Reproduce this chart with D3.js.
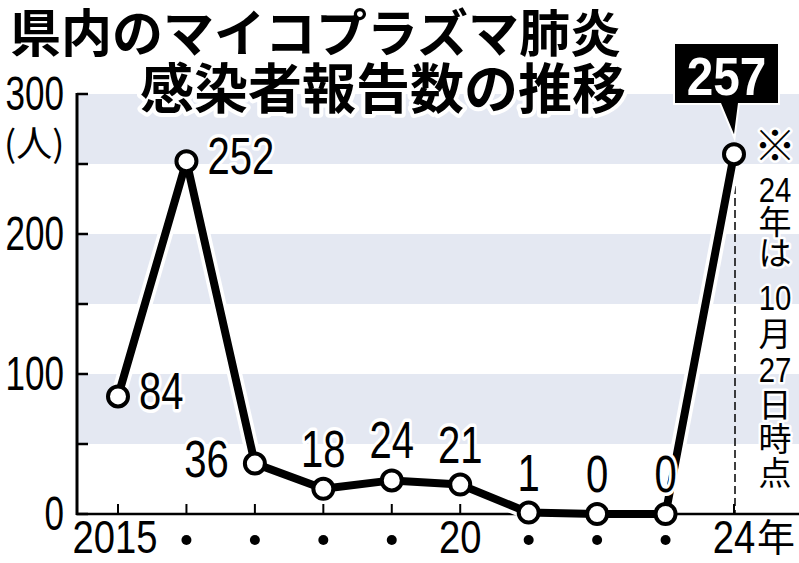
<!DOCTYPE html>
<html>
<head>
<meta charset="utf-8">
<script src="https://cdn.jsdelivr.net/npm/d3@7"></script>
<style>
  body { margin: 0; background: #fff; }
  svg { display: block; }
</style>
</head>
<body>
<svg id="chart"></svg>
<script>
// data
const years = [2015, 2016, 2017, 2018, 2019, 2020, 2021, 2022, 2023, 2024];
const cases = [84, 252, 36, 18, 24, 21, 1, 0, 0, 257];
const yTickLabels = [0, 100, 200, 300];
const xTickLabels = ['2015', '', '', '', '', '20', '', '', '', '24'];
const bands = [[50, 100], [150, 200], [250, 300]];
const titleLines = ['県内のマイコプラズマ肺炎', '感染者報告数の推移'];
const noteChars = ['※', '24', '年', 'は', '10', '月', '27', '日', '時', '点'];

// where each value label sits relative to its point
const labelSide = ['right', 'right', 'left', 'top', 'top', 'top', 'top', 'top', 'top', 'box'];

const width = 799, height = 563;
const numFont = '"Liberation Sans", sans-serif';
const jpFont = '"Noto Sans CJK JP", sans-serif';

const svg = d3.select('#chart')
    .attr('width', width)
    .attr('height', height);

const x = d3.scaleLinear().domain([2015, 2024]).range([118, 734]);
const y = d3.scaleLinear().domain([0, 300]).range([514, 94]);
const axisX = 77;

// condensed number text (scaled horizontally)
function numText(g, txt, px, py, size, sx, anchor) {
    return g.append('text')
        .attr('transform', `translate(${px},${py}) scale(${sx},1)`)
        .attr('text-anchor', anchor)
        .style('font-family', numFont)
        .style('font-size', size + 'px')
        .text(txt);
}

function halo(sel, w) {
    return sel.attr('stroke', '#fff')
        .attr('stroke-width', w)
        .attr('stroke-linejoin', 'round')
        .attr('paint-order', 'stroke');
}

// background bands
svg.append('g').selectAll('rect')
    .data(bands)
    .enter()
    .append('rect')
    .attr('x', axisX)
    .attr('width', width - axisX)
    .attr('y', d => y(d[1]))
    .attr('height', d => y(d[0]) - y(d[1]))
    .attr('fill', '#e4e8f2');

// y axis
const yAxis = svg.append('g');
yAxis.append('line')
    .attr('x1', axisX).attr('x2', axisX)
    .attr('y1', y(300) - 1).attr('y2', y(0) + 1)
    .attr('stroke', '#000').attr('stroke-width', 3);
yAxis.selectAll('.ytick')
    .data(d3.range(0, 301, 50))
    .enter()
    .append('line')
    .attr('x1', axisX).attr('x2', axisX + 11)
    .attr('y1', d => y(d)).attr('y2', d => y(d))
    .attr('stroke', '#000').attr('stroke-width', 2.5);
yTickLabels.forEach(v => {
    numText(yAxis, v, 64, y(v) + 16, 48, 0.73, 'end');
});
yAxis.append('text')
    .attr('x', 4).attr('y', 157)
    .style('font-family', jpFont)
    .style('font-size', '36px')
    .text('(人)');

// x axis
const xAxis = svg.append('g');
xAxis.append('line')
    .attr('x1', axisX - 1).attr('x2', width)
    .attr('y1', y(0)).attr('y2', y(0))
    .attr('stroke', '#000').attr('stroke-width', 2.5);
xAxis.selectAll('.xtick')
    .data(years)
    .enter()
    .append('line')
    .attr('x1', d => x(d)).attr('x2', d => x(d))
    .attr('y1', y(0)).attr('y2', y(0) - 10)
    .attr('stroke', '#000').attr('stroke-width', 2);
years.forEach((yr, i) => {
    const lab = xTickLabels[i];
    if (lab === '') {
        xAxis.append('circle')
            .attr('cx', x(yr)).attr('cy', 540).attr('r', 5)
            .attr('fill', '#000');
    } else {
        const dx = yr === 2015 ? -3 : 0;
        numText(xAxis, lab, x(yr) + dx, 553, 46, 0.83, 'middle');
        if (yr === 2024) {
            xAxis.append('text')
                .attr('x', x(yr) + 23).attr('y', 551)
                .style('font-family', jpFont)
                .style('font-size', '38px')
                .text('年');
        }
    }
});

// dashed marker for the partial year
svg.append('line')
    .attr('x1', x(2024) + 1).attr('x2', x(2024) + 1)
    .attr('y1', 186).attr('y2', y(0))
    .attr('stroke', '#000')
    .attr('stroke-width', 1.5)
    .attr('stroke-dasharray', '8,4');

// line
const points = years.map((yr, i) => [x(yr), y(cases[i])]);
const line = d3.line();
svg.append('path')
    .attr('d', line(points))
    .attr('fill', 'none')
    .attr('stroke', '#fff')
    .attr('stroke-width', 15)
    .attr('stroke-linejoin', 'round');
svg.append('path')
    .attr('d', line(points))
    .attr('fill', 'none')
    .attr('stroke', '#000')
    .attr('stroke-width', 8)
    .attr('stroke-linejoin', 'round');

svg.append('g').selectAll('circle')
    .data(points)
    .enter()
    .append('circle')
    .attr('cx', d => d[0]).attr('cy', d => d[1])
    .attr('r', 10)
    .attr('fill', '#fff')
    .attr('stroke', '#000')
    .attr('stroke-width', 4);

// value labels
const labels = svg.append('g');
points.forEach((p, i) => {
    const side = labelSide[i];
    const v = cases[i];
    if (side === 'right') {
        halo(numText(labels, v, p[0] + 21, p[1] + 13, 52, 0.77, 'start'), 7);
    } else if (side === 'left') {
        halo(numText(labels, v, p[0] - 26, p[1] + 13, 52, 0.77, 'end'), 7);
    } else if (side === 'top') {
        halo(numText(labels, v, p[0], p[1] - 22, 52, 0.77, 'middle'), 7);
    } else if (side === 'box') {
        const bx = p[0] - 59, by = 44, bw = 103, bh = 59;
        labels.append('path')
            .attr('d', `M${bx},${by}h${bw}v${bh}h${-40}L${p[0]},${p[1] - 20}L${p[0] - 13},${by + bh}H${bx}Z`)
            .attr('fill', '#000')
            .attr('stroke', '#fff')
            .attr('stroke-width', 4)
            .attr('paint-order', 'stroke');
        numText(labels, v, bx + bw / 2, by + 51, 53, 0.9, 'middle')
            .attr('fill', '#fff')
            .style('font-weight', 'bold');
    }
});

// vertical note
const noteY = [145, 189, 221, 252, 297, 333, 369, 404, 438, 472];
const note = svg.append('g');
noteChars.forEach((c, i) => {
    if (/^\d+$/.test(c)) {
        halo(numText(note, c, 775, noteY[i] + 12.5, 35, 0.84, 'middle'), 5);
    } else {
        const size = c === '※' ? 42 : 33;
        halo(note.append('text')
            .attr('x', 775).attr('y', noteY[i] + size * 0.38)
            .attr('text-anchor', 'middle')
            .style('font-family', jpFont)
            .style('font-size', size + 'px')
            .text(c), 5);
    }
});

// title
const title = svg.append('g');
title.append('text')
    .attr('x', 10).attr('y', 52)
    .style('font-family', jpFont)
    .style('font-size', '51px')
    .style('font-weight', 'bold')
    .text(titleLines[0]);
halo(title.append('text')
    .attr('x', 140).attr('y', 109)
    .style('font-family', jpFont)
    .style('font-size', '54px')
    .style('font-weight', 'bold')
    .text(titleLines[1]), 8);
</script>
</body>
</html>
